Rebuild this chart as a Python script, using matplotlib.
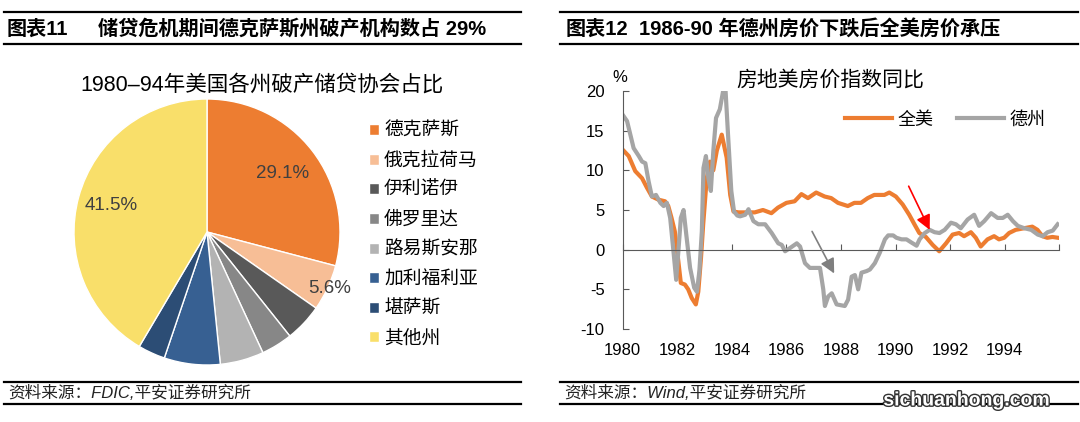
# 储贷危机：破产储贷协会占比 + 房价同比
import matplotlib
matplotlib.use('Agg')
import matplotlib.pyplot as plt
import matplotlib.patheffects as pe
import numpy as np
from matplotlib.lines import Line2D

plt.rcParams['font.family'] = ['Liberation Sans', 'Noto Sans CJK SC', 'DejaVu Sans']
plt.rcParams['axes.unicode_minus'] = False

# ---- 左图数据 ----
states = ['德克萨斯', '俄克拉荷马', '伊利诺伊', '佛罗里达', '路易斯安那', '加利福利亚', '堪萨斯', '其他州']
shares = [29.1, 5.6, 4.6, 3.8, 5.3, 6.8, 3.3, 41.5]
pie_colors = ['#ED7D31', '#F7BE96', '#595959', '#878787', '#B3B3B3', '#376092', '#2C4D75', '#F9DF6A']
shown_labels = {0: 0.72, 1: 1.02, 7: 0.75}   # 显示数值的扇区 -> 标签半径

# ---- 右图数据：全美 / 德州 房价同比 (%) ----
us_years = [1980.00, 1980.22, 1980.46, 1980.71, 1980.89, 1981.07, 1981.31, 1981.55, 1981.67, 1981.79,
            1981.91, 1982.04, 1982.13, 1982.28, 1982.40, 1982.53, 1982.68, 1982.77, 1982.87, 1982.95,
            1983.08, 1983.20, 1983.32, 1983.45, 1983.63, 1983.81, 1983.94, 1984.06, 1984.25, 1984.47,
            1984.84, 1985.14, 1985.45, 1985.69, 1986.00, 1986.30, 1986.55, 1986.79, 1987.09, 1987.40,
            1987.64, 1987.89, 1988.25, 1988.49, 1988.73, 1988.98, 1989.22, 1989.59, 1989.77, 1990.01,
            1990.26, 1990.50, 1990.69, 1990.87, 1991.11, 1991.36, 1991.60, 1991.85, 1992.09, 1992.33,
            1992.51, 1992.76, 1992.94, 1993.12, 1993.37, 1993.61, 1993.79, 1993.98, 1994.16, 1994.40,
            1994.71, 1995.01, 1995.20, 1995.38, 1995.56, 1995.75, 1995.95]
us_vals = [12.6, 11.8, 9.9, 9.0, 7.8, 6.7, 6.3, 6.1, 5.5, 4.0,
           2.3, -1.5, -4.2, -4.4, -5.0, -6.1, -6.9, -5.3, -1.0, 3.2,
           9.0, 11.1, 10.0, 12.5, 14.5, 11.6, 6.9, 4.8, 4.7, 4.7,
           4.7, 5.0, 4.6, 5.3, 5.9, 6.1, 7.0, 6.5, 7.2, 6.7,
           6.5, 5.9, 5.5, 5.9, 5.9, 6.5, 6.9, 6.9, 7.2, 6.7,
           5.7, 4.4, 3.2, 2.1, 1.6, 0.6, -0.2, 0.8, 1.9, 2.1,
           1.7, 2.2, 1.5, 0.4, 1.3, 1.7, 1.3, 1.5, 2.1, 2.5,
           2.7, 2.9, 2.5, 1.7, 1.5, 1.6, 1.5]

tx_years = [1980.00, 1980.16, 1980.28, 1980.40, 1980.59, 1980.71, 1980.83, 1980.95, 1981.07, 1981.22,
            1981.38, 1981.50, 1981.62, 1981.74, 1981.86, 1981.96, 1982.04, 1982.13, 1982.23, 1982.33,
            1982.47, 1982.62, 1982.72, 1982.81, 1982.90, 1982.96, 1983.05, 1983.14, 1983.23, 1983.32,
            1983.42, 1983.56, 1983.68, 1983.77, 1983.86, 1983.98, 1984.08, 1984.20, 1984.30, 1984.49,
            1984.61, 1984.79, 1984.97, 1985.22, 1985.46, 1985.70, 1985.83, 1985.95, 1986.13, 1986.38,
            1986.50, 1986.68, 1986.86, 1987.23, 1987.35, 1987.41, 1987.53, 1987.66, 1987.84, 1988.14,
            1988.26, 1988.39, 1988.51, 1988.63, 1988.75, 1988.94, 1989.06, 1989.24, 1989.42, 1989.61,
            1989.73, 1989.91, 1990.03, 1990.22, 1990.40, 1990.58, 1990.77, 1990.88, 1991.07, 1991.25,
            1991.43, 1991.61, 1991.80, 1992.03, 1992.21, 1992.39, 1992.64, 1992.88, 1993.06, 1993.25,
            1993.50, 1993.74, 1993.93, 1994.11, 1994.30, 1994.48, 1994.72, 1994.97, 1995.21, 1995.39,
            1995.57, 1995.76, 1995.94]
tx_vals = [17.0, 16.2, 14.5, 12.8, 11.8, 11.1, 10.9, 8.6, 6.7, 6.9,
           5.9, 5.5, 5.9, 4.0, -0.2, -3.8, -0.2, 4.0, 5.0, 1.9,
           -2.3, -4.8, -5.3, -2.7, 2.3, 10.3, 11.8, 9.0, 7.4, 12.4,
           16.6, 17.7, 20.0, 20.0, 14.5, 7.4, 4.8, 4.3, 4.2, 4.4,
           5.1, 3.6, 3.2, 3.2, 2.1, 0.8, 0.6, -0.2, 0.2, 0.8,
           0.4, -1.7, -2.3, -2.3, -5.0, -7.1, -5.9, -5.5, -6.9, -7.1,
           -6.3, -3.4, -3.2, -5.0, -2.9, -2.7, -2.5, -1.7, -0.4, 1.3,
           1.8, 1.8, 1.5, 1.3, 1.3, 0.9, 0.5, 1.3, 2.1, 2.5,
           2.2, 2.1, 2.5, 3.4, 3.2, 2.7, 3.8, 4.4, 3.0, 3.6,
           4.6, 4.0, 4.0, 4.4, 3.6, 3.0, 2.7, 2.5, 1.9, 1.7,
           2.2, 2.4, 3.2]

x_ticks = [1980, 1982, 1984, 1986, 1988, 1990, 1992, 1994, 1996]
x_labels = ['1980', '1982', '1984', '1986', '1988', '1990', '1992', '1994']
y_ticks = [-10, -5, 0, 5, 10, 15, 20]

# 箭头 (起点, 终点)
red_arrow = [(1990.48, 8.0), (1991.25, 2.5)]
gray_arrow = [(1986.94, 2.3), (1987.75, -3.0)]

W, H = 1080, 422


def fx(px):
    return px / W


def fy(py):
    return 1 - py / H


def hline(x0, x1, y, lw=1.6):
    fig.add_artist(Line2D([fx(x0), fx(x1)], [fy(y), fy(y)], color='black', lw=lw))


fig = plt.figure(figsize=(W / 100, H / 100), dpi=100)

# ---- 标题栏与脚注 ----
for x0, x1 in [(4, 521), (560, 1078)]:
    hline(x0, x1, 12)
    hline(x0, x1, 44)
    hline(x0, x1, 382)
    hline(x0, x1, 404)

fig.text(fx(7), fy(29), '图表11', fontsize=14.5, fontweight='bold', va='center')
fig.text(fx(98), fy(29), '储贷危机期间德克萨斯州破产机构数占 29%', fontsize=14.5, fontweight='bold', va='center')
fig.text(fx(566), fy(29), '图表12', fontsize=14.5, fontweight='bold', va='center')
fig.text(fx(639), fy(29), '1986-90 年德州房价下跌后全美房价承压', fontsize=14.5, fontweight='bold', va='center')

fig.text(fx(8), fy(393), '资料来源：FDIC,平安证券研究所', fontsize=12, style='italic', va='center', color='#222222')
fig.text(fx(564), fy(393), '资料来源：Wind,平安证券研究所', fontsize=12, style='italic', va='center', color='#222222')
fig.text(fx(967), fy(401), 'sichuanhong.com', fontsize=14, fontweight='bold', ha='center', va='center',
         color='white', path_effects=[pe.withStroke(linewidth=2, foreground='#333333')])

# ---- 左：饼图 ----
cx, cy, r = 207, 232, 133
ax1 = fig.add_axes([fx(cx - r), fy(cy + r), 2 * r / W, 2 * r / H])
wedges, _ = ax1.pie(shares, colors=pie_colors, startangle=90, counterclock=False,
                    wedgeprops=dict(edgecolor='white', linewidth=1))
ax1.set_xlim(-1, 1)
ax1.set_ylim(-1, 1)
ax1.set_aspect('equal')
for i, rad in shown_labels.items():
    w = wedges[i]
    ang = np.deg2rad((w.theta1 + w.theta2) / 2)
    ax1.text(rad * np.cos(ang), rad * np.sin(ang), f'{shares[i]:.1f}%', ha='center', va='center',
             fontsize=13.5, color='#404040')

fig.text(fx(262), fy(85), '1980–94年美国各州破产储贷协会占比', fontsize=15.5, ha='center', va='center')
fig.legend(wedges, states, loc='upper left', bbox_to_anchor=(fx(369), fy(123)), frameon=False,
           fontsize=13.5, handlelength=0.55, handleheight=0.55, handletextpad=0.25,
           labelspacing=0.66, borderpad=0, borderaxespad=0)

# ---- 右：房价同比 ----
x_left, x_right, y_top, y_bot = 622.7, 1059.3, 91, 329
ax2 = fig.add_axes([fx(x_left), fy(y_bot), (x_right - x_left) / W, (y_bot - y_top) / H])
ax2.plot(us_years, us_vals, color='#ED7D31', lw=3, label='全美', solid_joinstyle='round')
ax2.plot(tx_years, tx_vals, color='#A5A5A5', lw=3, label='德州', solid_joinstyle='round')
ax2.set_xlim(1980, 1996)
ax2.set_ylim(-10, 20)
ax2.set_yticks(y_ticks)
ax2.tick_params(axis='y', direction='in', length=4, pad=13, labelsize=12, color='#595959')
ax2.spines['left'].set_color('#595959')
ax2.spines['bottom'].set_position(('data', 0))
ax2.spines['bottom'].set_color('#595959')
ax2.spines['top'].set_visible(False)
ax2.spines['right'].set_visible(False)
ax2.set_xticks(x_ticks)
ax2.tick_params(axis='x', direction='in', length=4, labelbottom=False, color='#595959')

sec = ax2.secondary_xaxis(0)
sec.set_xticks(x_ticks[:-1])
sec.set_xticklabels(x_labels)
sec.tick_params(length=0, pad=10, labelsize=12)
sec.spines['bottom'].set_visible(False)

ax2.annotate('', xy=red_arrow[1], xytext=red_arrow[0],
             arrowprops=dict(arrowstyle='-|>', color='red', lw=1.2, mutation_scale=22, shrinkA=0, shrinkB=0))
ax2.annotate('', xy=gray_arrow[1], xytext=gray_arrow[0],
             arrowprops=dict(arrowstyle='-|>', color='#7F7F7F', lw=1.2, mutation_scale=22, shrinkA=0, shrinkB=0))

fig.text(fx(620), fy(78), '%', fontsize=12, ha='center', va='center')
fig.text(fx(830), fy(80), '房地美房价指数同比', fontsize=15, ha='center', va='center')
ax2.legend(loc='center left', bbox_to_anchor=(fx(845), fy(120)), bbox_transform=fig.transFigure,
           frameon=False, ncol=2, fontsize=13, handlelength=2.6, handletextpad=0.3,
           columnspacing=1.3, borderpad=0, borderaxespad=0)

fig.savefig('out.png', dpi=100)
